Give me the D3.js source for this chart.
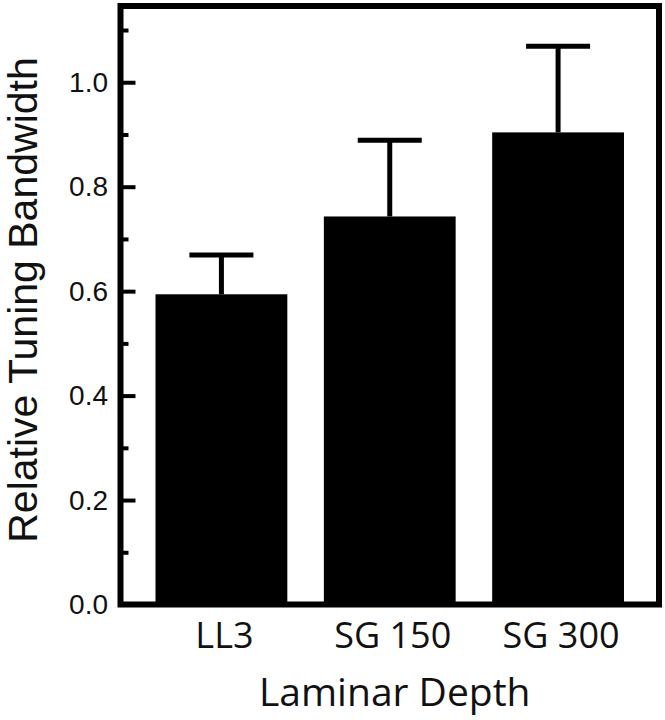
<!DOCTYPE html>
<html>
<head>
<meta charset="utf-8">
<script src="https://cdn.jsdelivr.net/npm/d3@7"></script>
<style>
  body { margin: 0; background: #fff; }
  .tick text { fill: #111; }
</style>
</head>
<body>
<div id="chart"></div>
<script>
// data
const categories = ['LL3', 'SG 150', 'SG 300'];
const means = [0.594, 0.743, 0.904];
const upperErr = [0.075, 0.146, 0.165];
const majorTicks = [0, 0.2, 0.4, 0.6, 0.8, 1.0];
const minorTicks = [0.1, 0.3, 0.5, 0.7, 0.9, 1.1];

const width = 665, height = 720;
const margin = {top: 6, right: 6, bottom: 115.5, left: 120.5};
const innerW = width - margin.left - margin.right;
const innerH = height - margin.top - margin.bottom;

const svg = d3.select('#chart').append('svg')
    .attr('width', width)
    .attr('height', height);

const g = svg.append('g')
    .attr('transform', `translate(${margin.left},${margin.top})`);

// scales
const x = d3.scaleBand()
    .domain(categories)
    .range([0, innerW])
    .paddingInner(0.217)
    .paddingOuter(0.208);

const y = d3.scaleLinear()
    .domain([0, 1.146])
    .range([innerH, 0]);

const rows = categories.map((c, i) => ({cat: c, mean: means[i], err: upperErr[i]}));

// bars
g.selectAll('.bar').data(rows).join('rect')
    .attr('class', 'bar')
    .attr('x', d => x(d.cat))
    .attr('y', d => y(d.mean))
    .attr('width', x.bandwidth())
    .attr('height', d => innerH - y(d.mean))
    .attr('fill', '#000');

// error bars (upper only)
const capW = 64;
g.selectAll('.err-v').data(rows).join('line')
    .attr('class', 'err-v')
    .attr('x1', d => x(d.cat) + x.bandwidth() / 2)
    .attr('x2', d => x(d.cat) + x.bandwidth() / 2)
    .attr('y1', d => y(d.mean))
    .attr('y2', d => y(d.mean + d.err))
    .attr('stroke', '#000')
    .attr('stroke-width', 5);

g.selectAll('.err-cap').data(rows).join('line')
    .attr('class', 'err-cap')
    .attr('x1', d => x(d.cat) + x.bandwidth() / 2 - capW / 2)
    .attr('x2', d => x(d.cat) + x.bandwidth() / 2 + capW / 2)
    .attr('y1', d => y(d.mean + d.err))
    .attr('y2', d => y(d.mean + d.err))
    .attr('stroke', '#000')
    .attr('stroke-width', 5);

// y axis, ticks pointing inward
const yAxisG = g.append('g')
    .call(d3.axisLeft(y).tickValues(majorTicks).tickSize(-15).tickPadding(12.5)
        .tickFormat(d3.format('.1f')));
yAxisG.select('.domain').remove();
yAxisG.selectAll('.tick line').attr('stroke', '#000').attr('stroke-width', 4);
yAxisG.selectAll('.tick text')
    .style('font-family', '"Liberation Sans", Arial, sans-serif')
    .style('font-size', '28px');

const yMinorG = g.append('g')
    .call(d3.axisLeft(y).tickValues(minorTicks).tickSize(-8).tickFormat(''));
yMinorG.select('.domain').remove();
yMinorG.selectAll('.tick line').attr('stroke', '#000').attr('stroke-width', 4);

// x axis labels
const xAxisG = g.append('g')
    .attr('transform', `translate(0,${innerH})`)
    .call(d3.axisBottom(x).tickSize(0).tickPadding(17.5));
xAxisG.select('.domain').remove();
xAxisG.selectAll('.tick text')
    .attr('dx', 3)
    .style('font-family', '"Open Sans", "Noto Sans", sans-serif')
    .style('font-size', '36px');

// frame
g.append('rect')
    .attr('x', 0)
    .attr('y', 0)
    .attr('width', innerW)
    .attr('height', innerH)
    .attr('fill', 'none')
    .attr('stroke', '#000')
    .attr('stroke-width', 6);

// axis titles
svg.append('text')
    .attr('x', margin.left + innerW / 2 + 5)
    .attr('y', 706)
    .attr('text-anchor', 'middle')
    .style('font-family', '"Open Sans", "Noto Sans", sans-serif')
    .style('font-size', '39px')
    .attr('fill', '#111')
    .text('Laminar Depth');

svg.append('text')
    .attr('transform', 'translate(37,300) rotate(-90)')
    .attr('text-anchor', 'middle')
    .style('font-family', '"Liberation Sans", Arial, sans-serif')
    .style('font-size', '41px')
    .attr('fill', '#111')
    .text('Relative Tuning Bandwidth');
</script>
</body>
</html>
